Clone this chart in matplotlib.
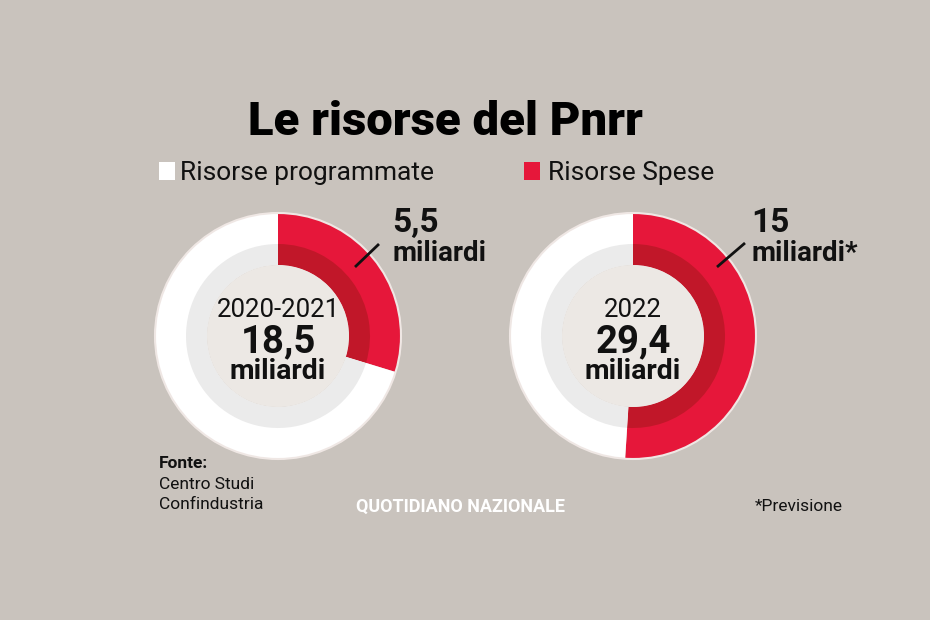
import matplotlib.pyplot as plt
from matplotlib import font_manager
from matplotlib.patches import Circle, Rectangle

# dati
periods = ['2020-2021', '2022']
totals = [18.5, 29.4]
spent = [5.5, 15.0]
total_labels = ['18,5', '29,4']
spent_labels = ['5,5', '15']
spent_units = ['miliardi', 'miliardi*']
legend_labels = ['Risorse programmate', 'Risorse Spese']

BG = '#c9c3bd'
RED = '#e6173a'
DARK_RED = '#c11729'
WHITE = '#ffffff'
RING = '#ebebeb'
INNER = '#ece8e4'
INK = '#111111'

names = {f.name for f in font_manager.fontManager.ttflist}
FONT = 'Roboto' if 'Roboto' in names else 'DejaVu Sans'

fig = plt.figure(figsize=(9.3, 6.2), dpi=100, facecolor=BG)
ax = fig.add_axes([0, 0, 1, 1])
ax.set_facecolor(BG)

H = 620  # y in pixel dall'alto -> coordinate dati
centers = [(278, H - 336), (633, H - 336)]
R_OUT, R_MID, R_IN = 123, 92, 71

for i in range(2):
    cx, cy = centers[i]
    vals = [spent[i], totals[i] - spent[i]]
    ax.pie(vals, startangle=90, counterclock=False, colors=[RED, WHITE],
           radius=R_OUT, center=(cx, cy), wedgeprops=dict(width=R_OUT - R_IN, linewidth=0))
    ax.pie(vals, startangle=90, counterclock=False, colors=[DARK_RED, RING],
           radius=R_MID, center=(cx, cy), wedgeprops=dict(width=R_MID - R_IN, linewidth=0))
    ax.add_patch(Circle((cx, cy), R_IN, color=INNER, lw=0))
    ax.add_patch(Circle((cx, cy), R_OUT, fill=False, ec='#efe7e4', lw=1.5))

    ax.text(cx, H - 317, periods[i], ha='center', va='baseline', fontsize=18.5,
            family=FONT, weight='normal', color=INK)
    ax.text(cx, H - 352, total_labels[i], ha='center', va='baseline', fontsize=27.5,
            family=FONT, weight='bold', color=INK)
    ax.text(cx, H - 379, 'miliardi', ha='center', va='baseline', fontsize=20.5,
            family=FONT, weight='bold', color=INK)

# etichette delle risorse spese con linea di richiamo
label_x = [392, 751]
line_pts = [((355, 267), (379, 244)), ((717, 267), (745, 243))]
for i in range(2):
    (x0, y0), (x1, y1) = line_pts[i]
    ax.plot([x0, x1], [H - y0, H - y1], color=INK, lw=2, solid_capstyle='butt')
    ax.text(label_x[i], H - 232, spent_labels[i], ha='left', va='baseline', fontsize=24,
            family=FONT, weight='bold', color=INK)
    ax.text(label_x[i], H - 261, spent_units[i], ha='left', va='baseline', fontsize=20,
            family=FONT, weight='bold', color=INK)

# titolo
ax.text(445, H - 135, 'Le risorse del Pnrr', ha='center', va='baseline', fontsize=34,
        family=FONT, weight='black', color='#000000')

# legenda
ax.add_patch(Rectangle((159, H - 180), 16, 18, color=WHITE, lw=0))
ax.text(180, H - 180, legend_labels[0], ha='left', va='baseline', fontsize=19,
        family=FONT, weight='normal', color=INK)
ax.add_patch(Rectangle((524, H - 180), 16, 18, color=RED, lw=0))
ax.text(548, H - 180, legend_labels[1], ha='left', va='baseline', fontsize=19,
        family=FONT, weight='normal', color=INK)

# fonte e note
ax.text(159, H - 468, 'Fonte:', ha='left', va='baseline', fontsize=12.5, family=FONT,
        weight='bold', color=INK)
ax.text(159, H - 489, 'Centro Studi', ha='left', va='baseline', fontsize=12.5, family=FONT,
        color=INK)
ax.text(159, H - 509, 'Confindustria', ha='left', va='baseline', fontsize=12.5, family=FONT,
        color=INK)
ax.text(460, H - 512, 'QUOTIDIANO NAZIONALE', ha='center', va='baseline', fontsize=13,
        family=FONT, weight='bold', color='#ffffff')
ax.text(755, H - 511, '*Previsione', ha='left', va='baseline', fontsize=12.5, family=FONT,
        color=INK)

ax.set_xlim(0, 930)
ax.set_ylim(0, H)
ax.set_aspect('equal')
ax.axis('off')

fig.savefig('out.png', dpi=100, facecolor=BG)
